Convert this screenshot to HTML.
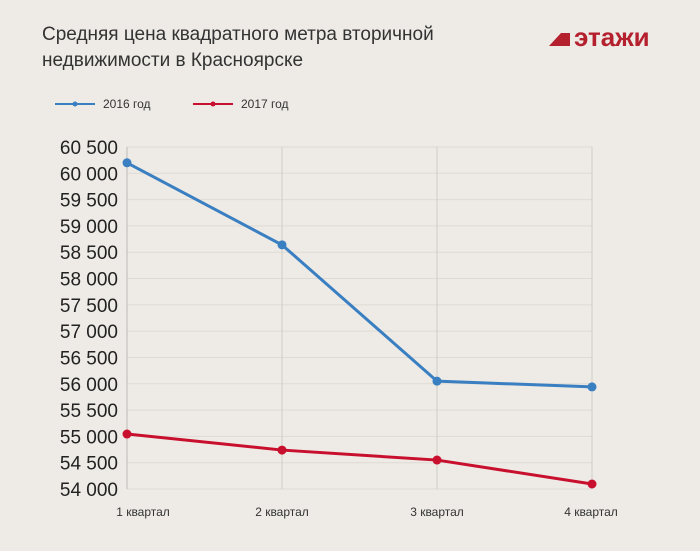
<!DOCTYPE html>
<html><head><meta charset="utf-8"><style>
body{margin:0;width:700px;height:546px;background:#eeebe6;font-family:"Liberation Sans",sans-serif;overflow:hidden}
</style></head><body>
<svg width="700" height="546" xmlns="http://www.w3.org/2000/svg">
<rect width="700" height="546" fill="#eeebe6"/>
<text x="42" y="40" font-size="19" fill="#333">Средняя цена квадратного метра вторичной</text>
<text x="42" y="66" font-size="19" fill="#333">недвижимости в Красноярске</text>
<g>
<polygon points="549,46 561,33 570,33 570,46" fill="#b5202e"/>
<text x="574" y="46" font-size="26" font-weight="bold" fill="#b5202e">этажи</text>
</g>
<g>
<line x1="55" y1="104" x2="95" y2="104" stroke="#3a7fc1" stroke-width="2"/><circle cx="75" cy="104" r="2.5" fill="#3a7fc1"/>
<text x="103" y="108" font-size="12" fill="#333">2016 год</text>
<line x1="193" y1="104" x2="233" y2="104" stroke="#c8102e" stroke-width="2"/><circle cx="213" cy="104" r="2.5" fill="#c8102e"/>
<text x="241" y="108" font-size="12" fill="#333">2017 год</text>
</g>
<g id="grid"></g><g id="axes"></g><g id="series"></g>
</svg>
<script>
const categories=["1 квартал","2 квартал","3 квартал","4 квартал"];
const s2016=[60200,58640,56050,55940];
const s2017=[55045,54740,54550,54095];
const yTicks=[54000,54500,55000,55500,56000,56500,57000,57500,58000,58500,59000,59500,60000,60500];
const NS="http://www.w3.org/2000/svg";
const x=i=>127+i*155;
const y=v=>489-(v-54000)*(342/6500);
function mk(t,a,p){const e=document.createElementNS(NS,t);for(const k in a)e.setAttribute(k,a[k]);p.appendChild(e);return e;}
const g=document.getElementById('grid'),ax=document.getElementById('axes'),s=document.getElementById('series');
yTicks.forEach(v=>{
 const l=mk('line',{x1:127,x2:592,y1:y(v),y2:y(v),stroke:'#dedad4','stroke-width':1},g);
 
 
 const t=mk('text',{x:118,y:y(v)+7,'text-anchor':'end','font-size':19,fill:'#222'},ax);
 t.textContent=String(v).replace(/(\d\d)(\d\d\d)/,'$1 $2');
 
 
});
categories.forEach((c,i)=>{
 const l=mk('line',{x1:x(i),x2:x(i),y1:y(60500),y2:y(54000),stroke:i?'#d0ccc6':'#bbb','stroke-width':1},g);
 
 
 const t=mk('text',{x:x(i)+(i==0?16:i==3?-1:0),y:516,'text-anchor':'middle','font-size':12,fill:'#333'},ax);
 t.textContent=c;
 
 
});
function series(d,col,name){
 const p=mk('polyline',{points:d.map((v,i)=>x(i)+','+y(v)).join(' '),fill:'none',stroke:col,'stroke-width':3},s);
 
 
 d.forEach((v,i)=>{const c=mk('circle',{cx:x(i),cy:y(v),r:4.5,fill:col},s);
 
 });
}
series(s2016,'#3a7fc1','series-2016');
series(s2017,'#c8102e','series-2017');
</script>
</body></html>
